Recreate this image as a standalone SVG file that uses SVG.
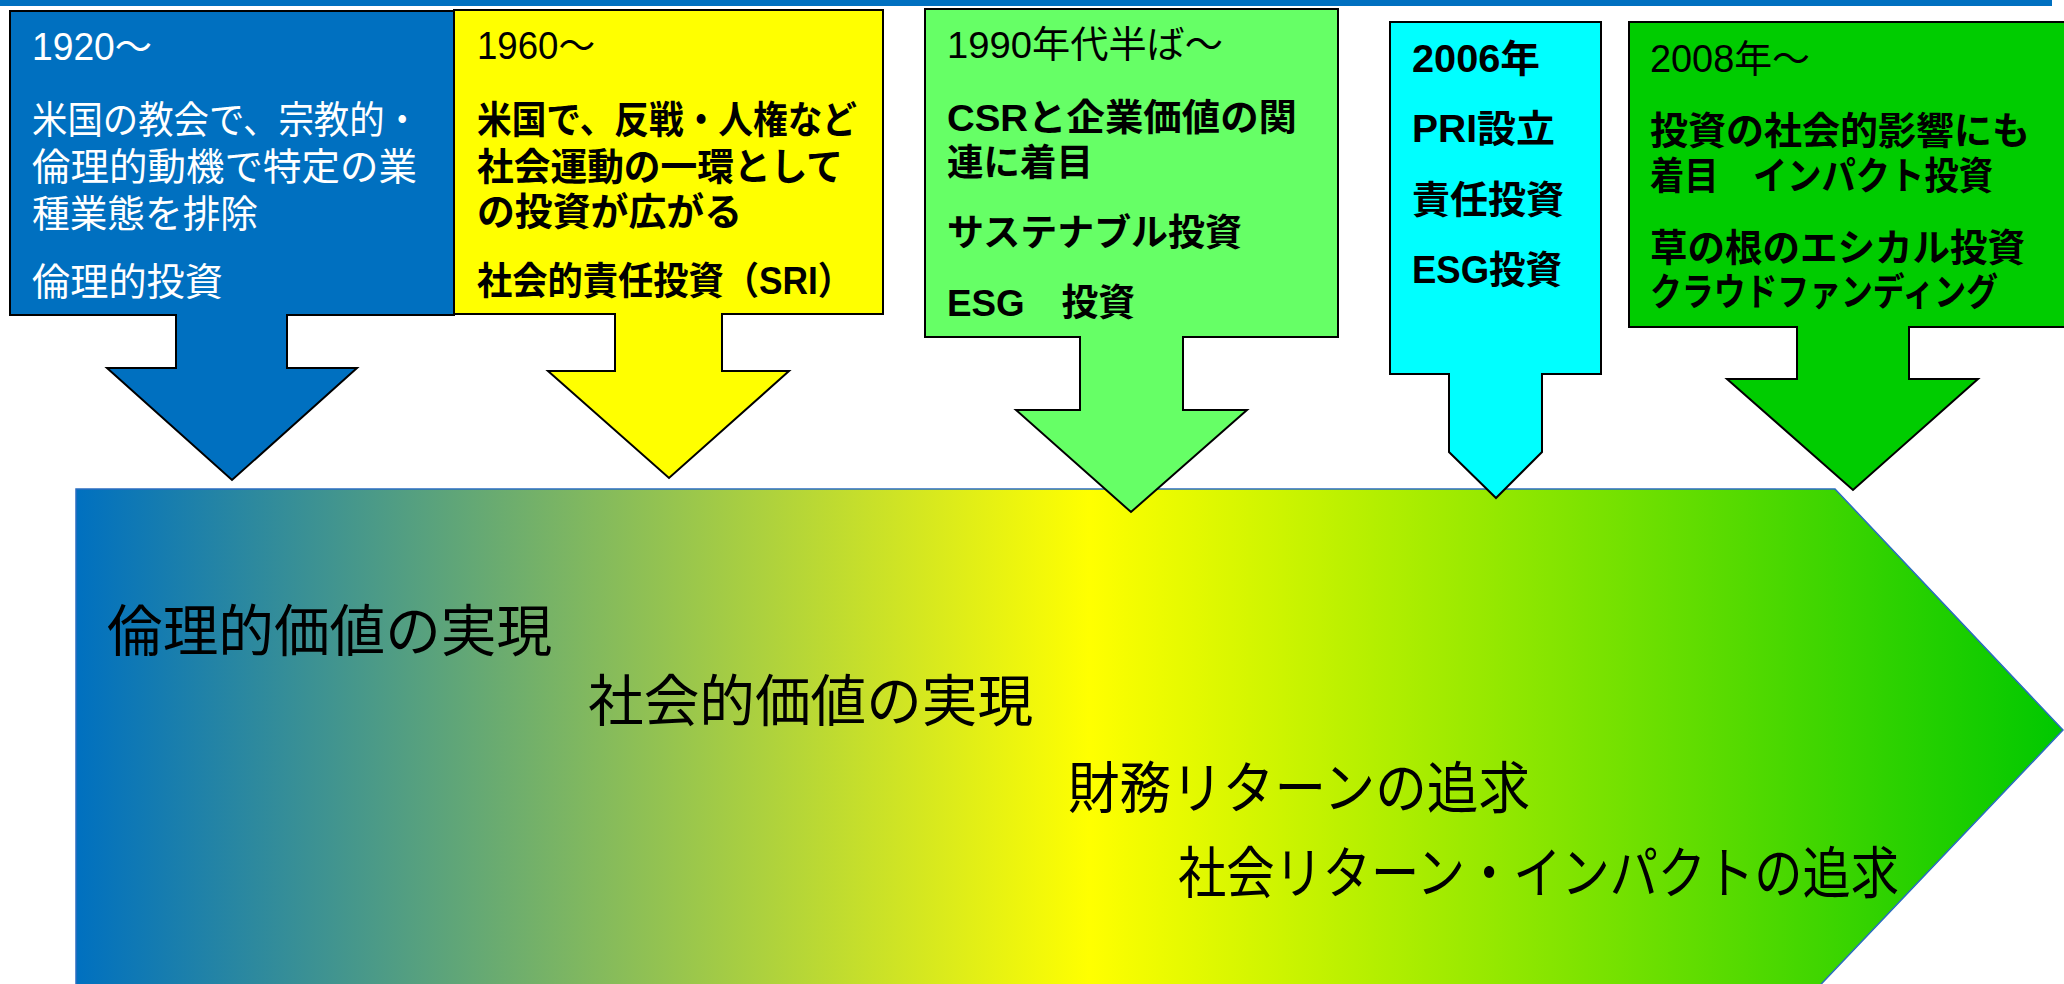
<svg xmlns="http://www.w3.org/2000/svg" width="2064" height="984" viewBox="0 0 2064 984">
<defs>
<linearGradient id="flow" gradientUnits="userSpaceOnUse" x1="76" y1="0" x2="2063" y2="0">
<stop offset="0" stop-color="#0070C0"/>
<stop offset="0.51" stop-color="#FFFF00"/>
<stop offset="1" stop-color="#00C800"/>
</linearGradient>
</defs>
<style>
text { font-family: "Liberation Sans", "Noto Sans CJK JP", sans-serif; white-space: pre; }
.call { stroke: #000; stroke-width: 2; stroke-linejoin: miter; }
.w { fill: #FFFFFF; }
.k { fill: #000000; }
.bd { font-weight: bold; }
.s38 { font-size: 38px; }
.s37 { font-size: 37px; }
.big { font-size: 56px; fill: #000; }
</style>
<rect x="0" y="0" width="2052" height="6" fill="#0070C0"/>
<g id="timeline-arrow">
<polygon points="76,489 1835,489 2063,730 1806,1000 76,1000" fill="url(#flow)" stroke="#2A6CC0" stroke-width="1.5"/>
<text class="big" x="107" y="651" textLength="445" lengthAdjust="spacingAndGlyphs">倫理的価値の実現</text>
<text class="big" x="588" y="721" textLength="445" lengthAdjust="spacingAndGlyphs">社会的価値の実現</text>
<text class="big" x="1068" y="808" textLength="462" lengthAdjust="spacingAndGlyphs">財務リターンの追求</text>
<text class="big" x="1178" y="893" textLength="721" lengthAdjust="spacingAndGlyphs">社会リターン・インパクトの追求</text>
</g>
<g id="connectors"></g>
<g id="n1920">
<polygon class="call" fill="#0070C0" points="10,11 454,11 454,315 287,315 287,368 357,368 232,480 107,368 176,368 176,315 10,315"/>
<text class="w s38" x="32" y="60" textLength="120" lengthAdjust="spacingAndGlyphs">1920～</text>
<text class="w s38" x="32" y="133" textLength="388" lengthAdjust="spacingAndGlyphs">米国の教会で、宗教的・</text>
<text class="w s38" x="32" y="180" textLength="385" lengthAdjust="spacingAndGlyphs">倫理的動機で特定の業</text>
<text class="w s38" x="32" y="227" textLength="226" lengthAdjust="spacingAndGlyphs">種業態を排除</text>
<text class="w s38" x="32" y="295" textLength="191" lengthAdjust="spacingAndGlyphs">倫理的投資</text>
</g>
<g id="n1960">
<polygon class="call" fill="#FFFF00" points="454,10 883,10 883,314 722,314 722,371 789,371 669,478 548,371 615,371 615,314 454,314"/>
<text class="k s38" x="477" y="59" textLength="118" lengthAdjust="spacingAndGlyphs">1960～</text>
<text class="k s38 bd" x="477" y="133" textLength="380" lengthAdjust="spacingAndGlyphs">米国で、反戦・人権など</text>
<text class="k s38 bd" x="477" y="180" textLength="366" lengthAdjust="spacingAndGlyphs">社会運動の一環として</text>
<text class="k s38 bd" x="477" y="225" textLength="265" lengthAdjust="spacingAndGlyphs">の投資が広がる</text>
<text class="k s38 bd" x="477" y="294" textLength="376" lengthAdjust="spacingAndGlyphs">社会的責任投資（SRI）</text>
</g>
<g id="n1990">
<polygon class="call" fill="#66FF66" points="925,9 1338,9 1338,337 1183,337 1183,410 1247,410 1131,512 1016,410 1080,410 1080,337 925,337"/>
<text class="k s37" x="947" y="58" textLength="276" lengthAdjust="spacingAndGlyphs">1990年代半ば～</text>
<text class="k s37 bd" x="947" y="131" textLength="350" lengthAdjust="spacingAndGlyphs">CSRと企業価値の関</text>
<text class="k s37 bd" x="947" y="176" textLength="146" lengthAdjust="spacingAndGlyphs">連に着目</text>
<text class="k s37 bd" x="947" y="246" textLength="295" lengthAdjust="spacingAndGlyphs">サステナブル投資</text>
<text class="k s37 bd" x="947" y="316" textLength="188" lengthAdjust="spacingAndGlyphs">ESG　投資</text>
</g>
<g id="n2006">
<polygon class="call" fill="#00FFFF" points="1390,22 1601,22 1601,374 1542,374 1542,452 1496,498 1449,452 1449,374 1390,374"/>
<text class="k s38 bd" x="1412" y="72" textLength="128" lengthAdjust="spacingAndGlyphs">2006年</text>
<text class="k s38 bd" x="1412" y="142" textLength="143" lengthAdjust="spacingAndGlyphs">PRI設立</text>
<text class="k s38 bd" x="1412" y="213" textLength="152" lengthAdjust="spacingAndGlyphs">責任投資</text>
<text class="k s38 bd" x="1412" y="283" textLength="150" lengthAdjust="spacingAndGlyphs">ESG投資</text>
</g>
<g id="n2008">
<polygon class="call" fill="#00CC00" points="1629,22 2070,22 2070,327 1909,327 1909,379 1978,379 1853,490 1727,379 1797,379 1797,327 1629,327"/>
<text class="k s38" x="1650" y="72" textLength="160" lengthAdjust="spacingAndGlyphs">2008年～</text>
<text class="k s38 bd" x="1650" y="144" textLength="380" lengthAdjust="spacingAndGlyphs">投資の社会的影響にも</text>
<text class="k s38 bd" x="1650" y="189" textLength="343" lengthAdjust="spacingAndGlyphs">着目　インパクト投資</text>
<text class="k s38 bd" x="1650" y="261" textLength="375" lengthAdjust="spacingAndGlyphs">草の根のエシカル投資</text>
<text class="k s38 bd" x="1650" y="305" textLength="348" lengthAdjust="spacingAndGlyphs">クラウドファンディング</text>
</g>
</svg>
